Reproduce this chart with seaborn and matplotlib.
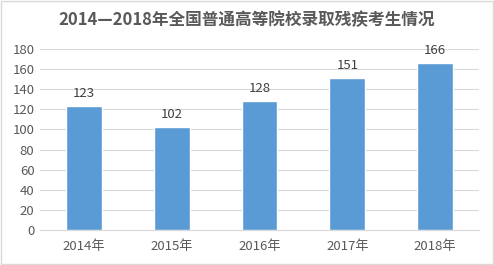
import matplotlib
matplotlib.use("Agg")
import matplotlib.pyplot as plt
import seaborn as sns
import pandas as pd

years = ["2014年", "2015年", "2016年", "2017年", "2018年"]
values = [123, 102, 128, 151, 166]
yticks = [0, 20, 40, 60, 80, 100, 120, 140, 160, 180]
title = "2014—2018年全国普通高等院校录取残疾考生情况"

sns.set_theme(style="white")
plt.rcParams['font.family'] = ['Noto Sans CJK SC', 'DejaVu Sans']

df = pd.DataFrame({"year": years, "value": values})

fig = plt.figure(figsize=(4.94, 2.65), dpi=100)
ax = fig.add_axes([40/494, 1-230/265, 439/494, 181/265])
sns.barplot(data=df, x="year", y="value", color="#5B9BD5", width=0.41,
            saturation=1, ax=ax, zorder=3)
ax.set_ylim(0, 180)
ax.set_xlim(-0.5, 4.5)
ax.set_yticks(yticks)
ax.yaxis.grid(True, color="#D9D9D9", linewidth=0.8, zorder=0)
ax.set_axisbelow(True)
for s in ["top", "right", "left"]:
    ax.spines[s].set_visible(False)
ax.spines["bottom"].set_color("#D9D9D9")
ax.spines["bottom"].set_linewidth(0.8)
ax.tick_params(axis="both", length=0, colors="#595959", labelsize=9.5, pad=4)
ax.tick_params(axis="x", pad=7)
ax.set_xlabel("")
ax.set_ylabel("")
for i, v in enumerate(values):
    ax.text(i, v + 6, str(v), ha="center", va="bottom", fontsize=9.5, color="#404040")

fig.text(0.5, 1-20/265, title, ha="center", va="center", fontsize=12,
         fontweight="bold", color="#595959")
fig.patches.append(plt.Rectangle((0.002, 0.004), 0.996, 0.992, transform=fig.transFigure,
                                 fill=False, edgecolor="#D9D9D9", linewidth=1))
fig.savefig("out.png", dpi=100)
